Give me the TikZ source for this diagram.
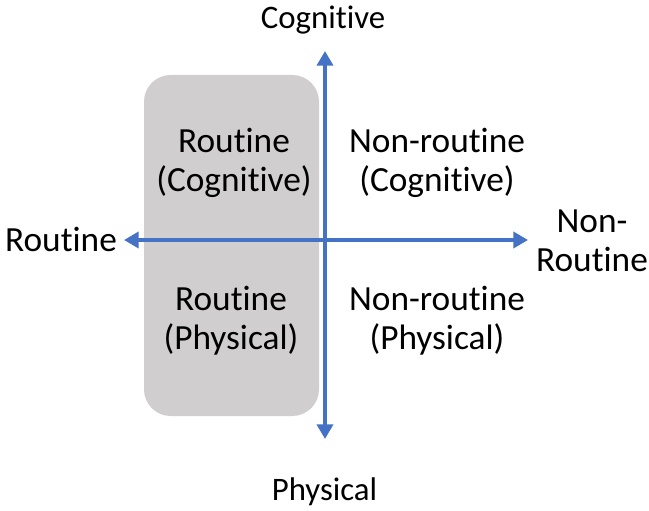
\documentclass[tikz,border=0pt]{standalone}
\usepackage{fontspec}
\setmainfont{Carlito}[RawFeature={-liga;-clig;-dlig;-calt;-rlig;-hlig}]
\usetikzlibrary{arrows.meta}
\definecolor{axisblue}{RGB}{68,114,196}
\definecolor{boxgray}{RGB}{208,206,206}
% keep the t and i of a word as separate glyphs
\newcommand{\tI}{t\kern0pt i}
\begin{document}
\begin{tikzpicture}[x=0.75pt,y=-0.75pt,
  lbl/.style={align=center,font=\fontsize{26.5}{29.5}\selectfont,inner sep=0pt},
  ends/.style={lbl,font=\fontsize{24.6}{29.5}\selectfont},
  axis/.style={draw=axisblue,line width=2.8pt,-{Triangle[length=11pt,width=12pt]}}]
\useasboundingbox (0,0) rectangle (649,510);
% shaded routine band
\fill[boxgray,rounded corners=20pt] (144,75) rectangle (319,416);
% axis end points
\coordinate (o) at (325,240);
\coordinate (top) at (325,51);
\coordinate (bot) at (325,439);
\coordinate (lft) at (124,240);
\coordinate (rgt) at (528,240);
\draw[axis] (o) -- (top);
\draw[axis] (o) -- (bot);
\draw[axis] (o) -- (lft);
\draw[axis] (o) -- (rgt);
% axis labels
\node[ends] (cog) at (323,20) {Cogni\tI ve};
\node[ends] (phys) at (324.5,492) {Physical};
\node[lbl] (rout) at (61,239) {Rou\tI ne};
\node[lbl] (nonr) at (592,241) {Non-\\Rou\tI ne};
% quadrant labels
\node[lbl] (rc) at (234,163) {Rou\tI ne\\(Cogni\tI ve)};
\node[lbl] (nc) at (437,163) {Non-rou\tI ne\\(Cogni\tI ve)};
\node[lbl] (rp) at (231,321) {Rou\tI ne\\(Physical)};
\node[lbl] (np) at (437,321) {Non-rou\tI ne\\(Physical)};
\end{tikzpicture}
\end{document}
